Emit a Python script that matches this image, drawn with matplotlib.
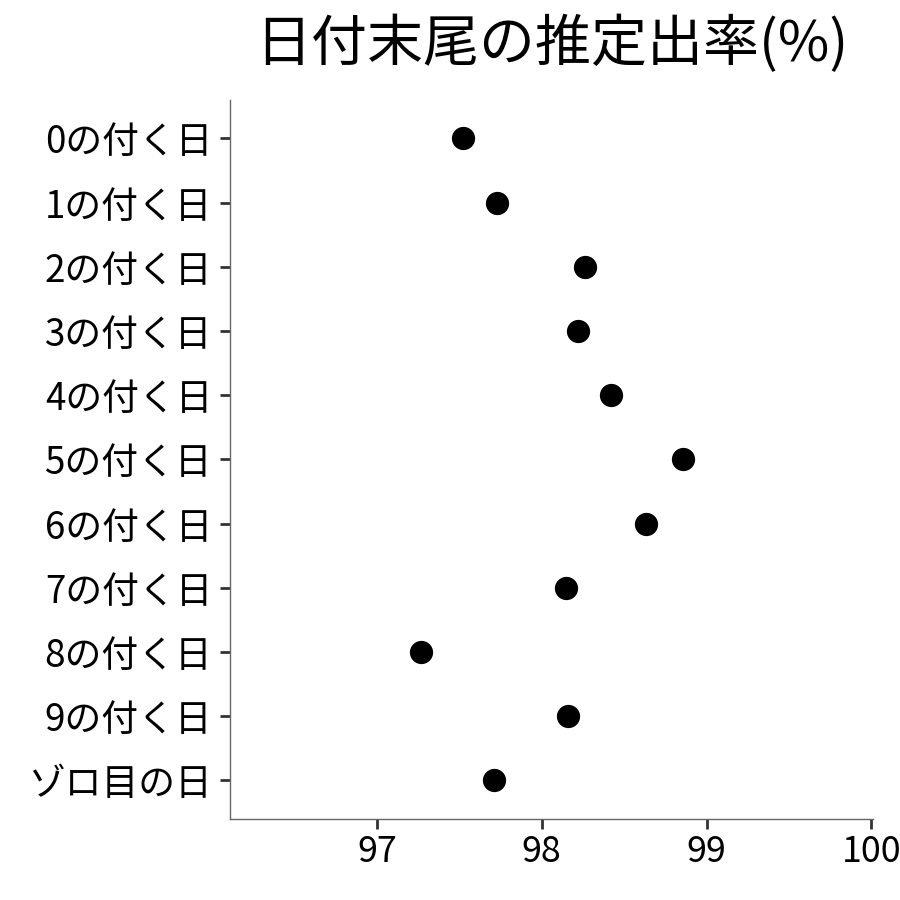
import matplotlib
matplotlib.use("Agg")
import matplotlib.pyplot as plt

plt.rcParams['font.family'] = ['Noto Sans CJK JP', 'DejaVu Sans']

# 推定出率 (%)
labels = ['0の付く日', '1の付く日', '2の付く日', '3の付く日', '4の付く日',
          '5の付く日', '6の付く日', '7の付く日', '8の付く日', '9の付く日',
          'ゾロ目の日']
rates = [97.52, 97.73, 98.26, 98.22, 98.42, 98.86, 98.63, 98.15, 97.27,
         98.16, 97.71]
xticks = [97, 98, 99, 100]

fig = plt.figure(figsize=(9, 9), dpi=100)
ax = fig.add_axes([0.2551, 0.090, 0.7149, 0.799])

ypos = list(range(len(labels)))
ax.scatter(rates, ypos, s=280, color='black', zorder=3, linewidths=0)

ax.set_yticks(ypos)
ax.set_yticklabels(labels)
ax.set_ylim(len(labels) - 0.4, -0.6)
ax.set_xlim(96.106, 100.01)
ax.set_xticks(xticks)
ax.set_xticklabels([str(v) for v in xticks])

for s in ['top', 'right']:
    ax.spines[s].set_visible(False)
for s in ['left', 'bottom']:
    ax.spines[s].set_color('#666666')
    ax.spines[s].set_linewidth(1.0)

ax.tick_params(axis='both', length=7.5, width=2.0, color='#333333',
               labelcolor='black')
ax.tick_params(axis='y', pad=5, labelsize=26.5)
ax.tick_params(axis='x', pad=3, labelsize=25.8)

fig.suptitle('日付末尾の推定出率(%)', x=0.613, y=0.983, fontsize=40.3,
             va='top')

fig.savefig('out.png', dpi=100, facecolor='white')
